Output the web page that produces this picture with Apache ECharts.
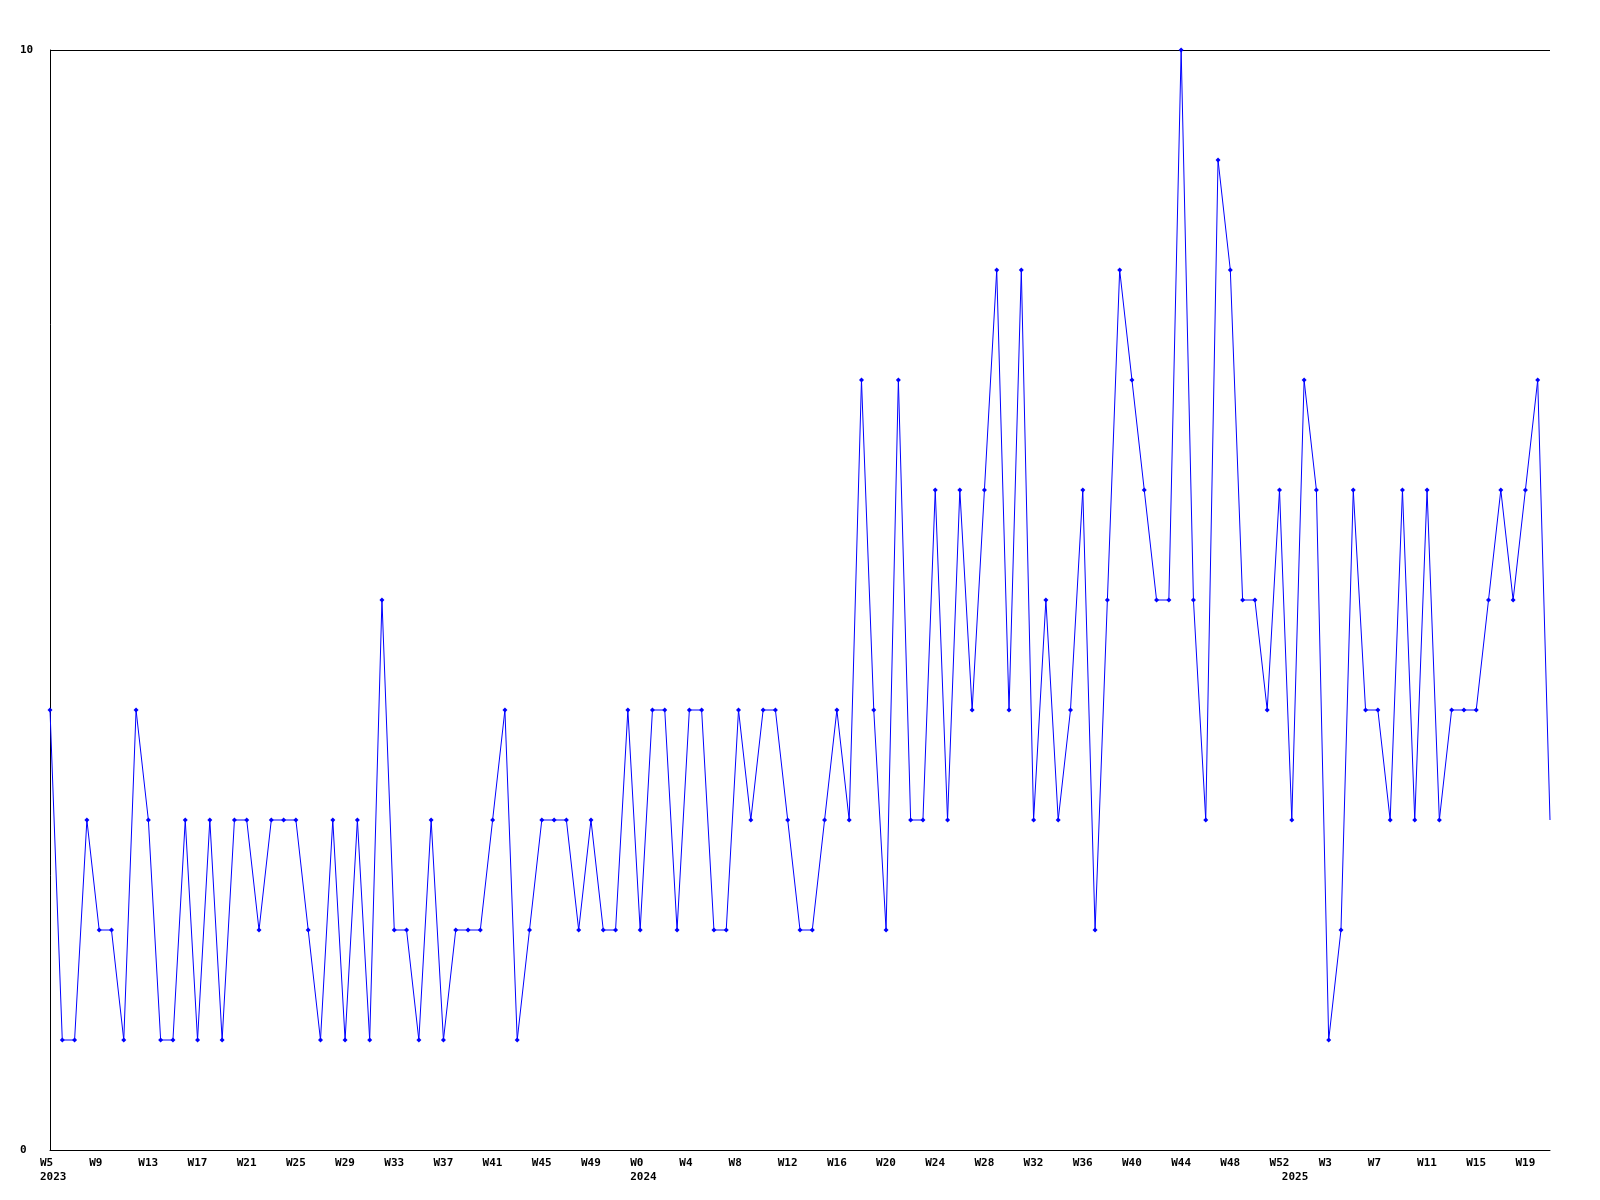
<!DOCTYPE html>
<html>
<head>
<meta charset="utf-8">
<script src="https://cdn.jsdelivr.net/npm/echarts@6/dist/echarts.min.js"></script>
<style>
html,body{margin:0;padding:0;background:#fff;}
#chart{width:1600px;height:1200px;}
</style>
</head>
<body>
<div id="chart"></div>
<script>
// Week spans per year (categories)
const yearSpans = [
  { year: 2023, firstWeek: 5, lastWeek: 52 },
  { year: 2024, firstWeek: 0, lastWeek: 52 },
  { year: 2025, firstWeek: 0, lastWeek: 21 }
];

// Weekly values
const values = [
  4,1,1,3,2,2,1,4,3,1,
  1,3,1,3,1,3,3,2,3,3,
  3,2,1,3,1,3,1,5,2,2,
  1,3,1,2,2,2,3,4,1,2,
  3,3,3,2,3,2,2,4,2,4,
  4,2,4,4,2,2,4,3,4,4,
  3,2,2,3,4,3,7,4,2,7,
  3,3,6,3,6,4,6,8,4,8,
  3,5,3,4,6,2,5,8,7,6,
  5,5,10,5,3,9,8,5,5,4,
  6,3,7,6,1,2,6,4,4,3,
  6,3,6,3,4,4,4,5,6,5,
  6,7,3
];

const yTicks = [0, 10];

const categories = [];
const weekNums = [];
const yearStart = [];
yearSpans.forEach(function (s) {
  for (let w = s.firstWeek; w <= s.lastWeek; w++) {
    categories.push(s.year + '-W' + w);
    weekNums.push(w);
    yearStart.push(w === s.firstWeek ? String(s.year) : '');
  }
});

const FONT = 'DejaVu Sans Mono';
const chart = echarts.init(document.getElementById('chart'), null, { renderer: 'canvas' });
const lastIdx = values.length - 1;

chart.setOption({
  animation: false,
  backgroundColor: '#ffffff',
  grid: { left: 50, right: 50, top: 50, bottom: 50, containLabel: false },
  xAxis: {
    type: 'category',
    data: categories,
    boundaryGap: false,
    axisLine: { show: true, lineStyle: { color: '#000', width: 1 } },
    axisTick: { show: false },
    splitLine: { show: false },
    axisLabel: {
      interval: 0,
      margin: 6,
      align: 'center',
      formatter: function (val, idx) {
        const wk = (idx % 4 === 0) ? 'W' + weekNums[idx] : '';
        const yr = yearStart[idx];
        if (!wk && !yr) return '';
        return '{w|' + (wk || ' ') + '}' + (yr ? '\n{w|' + yr + '}' : '');
      },
      rich: {
        w: {
          width: 20, align: 'left', fontFamily: FONT, fontSize: 11,
          fontWeight: 'bold', color: '#000', lineHeight: 14
        }
      }
    }
  },
  yAxis: {
    type: 'value',
    min: yTicks[0],
    max: yTicks[1],
    interval: 10,
    axisLine: { show: true, lineStyle: { color: '#000', width: 1 } },
    axisTick: { show: false },
    splitLine: { show: true, lineStyle: { color: '#000', width: 1 } },
    axisLabel: {
      align: 'left',
      margin: 30,
      fontFamily: FONT,
      fontSize: 11,
      fontWeight: 'bold',
      color: '#000'
    }
  },
  series: [{
    type: 'line',
    data: values,
    symbol: 'diamond',
    symbolSize: function (v, p) { return p.dataIndex === lastIdx ? 0 : 5; },
    showAllSymbol: true,
    lineStyle: { color: '#0000ff', width: 1 },
    itemStyle: { color: '#0000ff' },
    emphasis: { disabled: true }
  }]
});
</script>
</body>
</html>
